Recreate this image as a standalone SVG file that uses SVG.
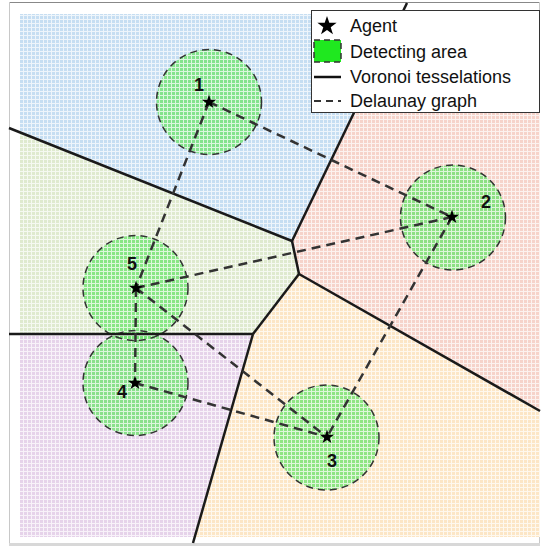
<svg xmlns="http://www.w3.org/2000/svg" width="541" height="548" viewBox="0 0 541 548">
  <style>
    .cell { stroke: none; }
    .edge { stroke: #1a1a1a; stroke-width: 2.5; fill: none; stroke-linecap: butt; }
    .dl { stroke: #333; stroke-width: 2.5; stroke-dasharray: 9 6; fill: none; }
    .area { fill: #6fe46f; fill-opacity: 0.78; }
    .rim { fill: none; stroke: #333; stroke-width: 1.5; stroke-dasharray: 7 5; }
    .lbl { font-family: "Liberation Sans", Arial, sans-serif; font-weight: bold; font-size: 18px; fill: #111; text-anchor: middle; }
    .leg { font-family: "Liberation Sans", Arial, sans-serif; font-size: 18px; fill: #111; }
  </style>
  <defs>
    <path id="star" d="M0,-7.5 L1.705,-2.346 L7.133,-2.318 L2.758,0.896 L4.408,6.068 L0,2.9 L-4.408,6.068 L-2.758,0.896 L-7.133,-2.318 L-1.705,-2.346 Z" fill="#000"/>
    <pattern id="grid" width="4" height="4" patternUnits="userSpaceOnUse">
      <rect x="0" y="3" width="4" height="1" fill="#fff" fill-opacity="0.7"/>
      <rect x="3" y="0" width="1" height="3" fill="#fff" fill-opacity="0.7"/>
    </pattern>
    <clipPath id="plot">
      <rect x="20" y="14" width="520" height="523"/>
    </clipPath>
  </defs>

  <!-- page background and frame -->
  <rect x="0" y="0" width="541" height="548" fill="#fff"/>
  <line x1="9" y1="2.5" x2="539" y2="2.5" stroke="#888" stroke-width="1"/>
  <line x1="9.5" y1="2" x2="9.5" y2="544" stroke="#c8c8c8" stroke-width="1"/>
  <line x1="539.5" y1="2" x2="539.5" y2="544" stroke="#c8c8c8" stroke-width="1"/>
  <rect x="9" y="543" width="531" height="3" fill="#d8d8d8"/>

  <!-- Voronoi cells -->
  <g id="cells" clip-path="url(#plot)">
    <polygon id="cell-1" class="cell" fill="#c6def2" points="9,0 408,0 292,241 9,128"/>
    <polygon id="cell-2" class="cell" fill="#f6d3ca" points="408,0 541,0 541,411 299,274 292,241"/>
    <polygon id="cell-5" class="cell" fill="#dfeacf" points="9,128 292,241 299,274 253,334 9,334"/>
    <polygon id="cell-4" class="cell" fill="#e6d3ea" points="9,334 253,334 192,548 9,548"/>
    <polygon id="cell-3" class="cell" fill="#fce6c6" points="253,334 299,274 541,411 541,548 192,548"/>
  </g>

  <!-- detecting areas (fill) -->
  <g id="areas">
    <circle id="area-1" class="area" cx="209" cy="102" r="52.5"/>
    <circle id="area-2" class="area" cx="453" cy="217.5" r="52.5"/>
    <circle id="area-3" class="area" cx="326.5" cy="437.5" r="52.5"/>
    <circle id="area-4" class="area" cx="135.5" cy="383" r="52.5"/>
    <circle id="area-5" class="area" cx="135.5" cy="288" r="52.5"/>
  </g>

  <!-- sampling grid over the whole field -->
  <rect x="20" y="14" width="520" height="523" fill="url(#grid)"/>

  <!-- detecting area rims -->
  <g id="rims">
    <circle class="rim" cx="209" cy="102" r="52.5"/>
    <circle class="rim" cx="453" cy="217.5" r="52.5"/>
    <circle class="rim" cx="326.5" cy="437.5" r="52.5"/>
    <circle class="rim" cx="135.5" cy="383" r="52.5"/>
    <circle class="rim" cx="135.5" cy="288" r="52.5"/>
  </g>

  <!-- connectors: Voronoi tesselation edges and Delaunay graph -->
  <g id="connectors">
    <g id="voronoi">
      <line class="edge" x1="9" y1="128" x2="292" y2="241"/>
      <line class="edge" x1="292" y1="241" x2="407" y2="3"/>
      <line class="edge" x1="292" y1="241" x2="299" y2="274"/>
      <line class="edge" x1="299" y1="274" x2="540" y2="411"/>
      <line class="edge" x1="299" y1="274" x2="253" y2="334"/>
      <line class="edge" x1="9" y1="334" x2="253" y2="334"/>
      <line class="edge" x1="253" y1="334" x2="193" y2="543"/>
    </g>
    <g id="delaunay">
      <line class="dl" x1="209" y1="102" x2="452" y2="217"/>
      <line class="dl" x1="209" y1="102" x2="136" y2="288"/>
      <line class="dl" x1="136" y1="288" x2="452" y2="217"/>
      <line class="dl" x1="452" y1="217" x2="327" y2="437"/>
      <line class="dl" x1="136" y1="288" x2="327" y2="437"/>
      <line class="dl" x1="136" y1="288" x2="135" y2="383"/>
      <line class="dl" x1="135" y1="383" x2="327" y2="437"/>
    </g>
  </g>

  <!-- agents -->
  <g id="agent-1"><use href="#star" x="209" y="102"/><text class="lbl" x="199" y="91">1</text></g>
  <g id="agent-2"><use href="#star" x="452" y="217"/><text class="lbl" x="486" y="208">2</text></g>
  <g id="agent-3"><use href="#star" x="327" y="437"/><text class="lbl" x="332" y="467">3</text></g>
  <g id="agent-4"><use href="#star" x="135" y="383"/><text class="lbl" x="122" y="398">4</text></g>
  <g id="agent-5"><use href="#star" x="136" y="288"/><text class="lbl" x="132" y="270">5</text></g>

  <!-- legend -->
  <g id="legend">
    <rect x="311.5" y="10.5" width="228" height="102" fill="#fff" stroke="#333" stroke-width="1"/>
    <use href="#star" transform="translate(327 26) scale(1.35)"/>
    <text class="leg" x="350" y="32">Agent</text>
    <rect x="314" y="40" width="27" height="22" fill="#1fe81f" stroke="#333" stroke-width="1.5" stroke-dasharray="6 4"/>
    <text class="leg" x="350" y="58">Detecting area</text>
    <line x1="314" y1="77" x2="341" y2="77" stroke="#111" stroke-width="2.5"/>
    <text class="leg" x="350" y="83">Voronoi tesselations</text>
    <line x1="314" y1="101" x2="341" y2="101" stroke="#333" stroke-width="2" stroke-dasharray="7 5"/>
    <text class="leg" x="350" y="107">Delaunay graph</text>
  </g>
</svg>
